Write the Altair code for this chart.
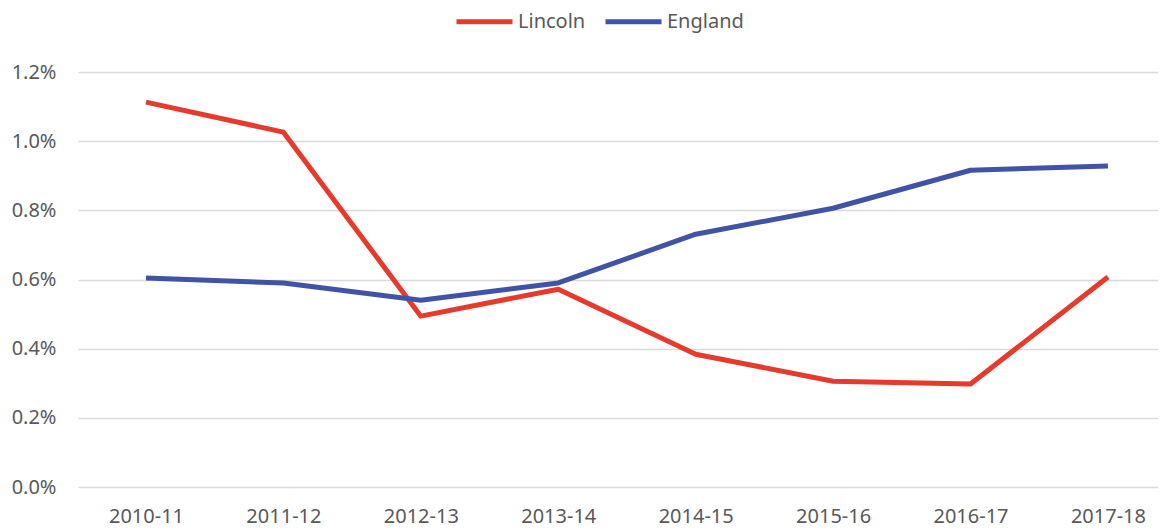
import altair as alt
import pandas as pd

years = ["2010-11", "2011-12", "2012-13", "2013-14", "2014-15", "2015-16", "2016-17", "2017-18"]
lincoln = [0.01113, 0.01026, 0.00494, 0.00572, 0.00384, 0.00306, 0.00298, 0.00607]
england = [0.00604, 0.00590, 0.00540, 0.00590, 0.00731, 0.00806, 0.00916, 0.00928]
series = ["Lincoln", "England"]
colors = ["#E63A2C", "#4053A6"]

rows = []
for name, vals in zip(series, [lincoln, england]):
    for y, v in zip(years, vals):
        rows.append({"Year": y, "Series": name, "Value": v})
df = pd.DataFrame(rows)

FONT = "Noto Sans"

chart = alt.Chart(df).mark_line(strokeWidth=5, strokeCap="butt", strokeJoin="round").encode(
    x=alt.X("Year:N", sort=years, title=None,
            scale=alt.Scale(type="point", padding=0.4295, align=0.576),
            axis=alt.Axis(labelAngle=0, ticks=False, domain=False, grid=False,
                          labelPadding=19, labelFontSize=20, labelFont=FONT,
                          labelColor="#595959")),
    y=alt.Y("Value:Q", title=None,
            scale=alt.Scale(domain=[0, 0.012], nice=False),
            axis=alt.Axis(format=".1%", values=[0, 0.002, 0.004, 0.006, 0.008, 0.010, 0.012],
                          ticks=False, domain=False, gridColor="#D9D9D9", gridWidth=1.5,
                          labelPadding=22, labelFontSize=20, labelFont=FONT,
                          labelColor="#595959")),
    color=alt.Color("Series:N", sort=series,
                    scale=alt.Scale(domain=series, range=colors),
                    legend=alt.Legend(title=None, orient="none", direction="horizontal",
                                      legendX=376, legendY=-81,
                                      symbolType="stroke", symbolSize=3136, symbolStrokeWidth=5,
                                      labelFontSize=20, labelFont=FONT, labelColor="#595959",
                                      labelOffset=3, columnPadding=9)),
).properties(
    width=1080, height=415,
    autosize=alt.AutoSizeParams(type="none"),
    padding={"left": 70, "top": 64, "right": 0, "bottom": 44},
).configure_view(stroke=None)

chart.save("out.html", embed_options={"renderer": "svg", "actions": False})
